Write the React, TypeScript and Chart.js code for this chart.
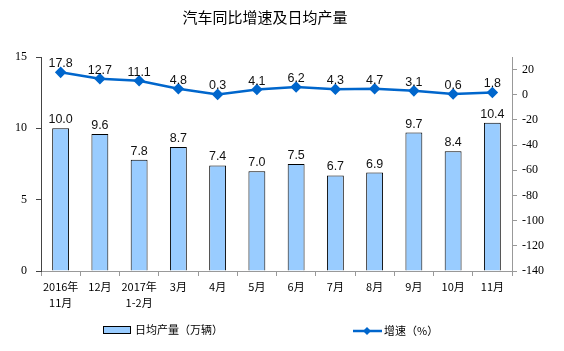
import React, { useEffect, useRef } from "react";
import { Chart, registerables } from "chart.js";

Chart.register(...registerables);

const categories: (string | string[])[] = [
  ["2016年", "11月"], "12月", ["2017年", "1-2月"], "3月", "4月", "5月",
  "6月", "7月", "8月", "9月", "10月", "11月",
];
const dailyOutput = [10.0, 9.6, 7.8, 8.7, 7.4, 7.0, 7.5, 6.7, 6.9, 9.7, 8.4, 10.4];
const growthRate = [17.8, 12.7, 11.1, 4.8, 0.3, 4.1, 6.2, 4.3, 4.7, 3.1, 0.6, 1.8];
const titleText = "汽车同比增速及日均产量";
const barLegend = "日均产量（万辆）";
const lineLegend = "增速（%）";

const BAR_FILL = "#99CCFF";
const LINE_COLOR = "#0066CC";
const CJK = '"Noto Sans CJK SC", "Noto Sans", sans-serif';
const SERIF = '"Liberation Serif", serif';

export default function App() {
  const ref = useRef<HTMLCanvasElement>(null);
  useEffect(() => {
    if (!ref.current) return;
    const extras = {
      id: "extras",
      afterDatasetsDraw(chart: any) {
        const ctx = chart.ctx;
        ctx.save();
        ctx.fillStyle = "#111";
        ctx.font = '12.5px "Liberation Sans", Arial, sans-serif';
        ctx.textAlign = "center";
        ctx.textBaseline = "alphabetic";
        chart.data.datasets.forEach((ds: any, di: number) => {
          const meta = chart.getDatasetMeta(di);
          meta.data.forEach((el: any, i: number) => {
            const v = ds.data[i];
            const txt = v.toFixed(1);
            ctx.fillText(txt, el.x, el.y - 5);
          });
        });
        ctx.restore();
      },
      afterDraw(chart: any) {
        const ctx = chart.ctx;
        ctx.save();
        // right axis labels, left-aligned
        const s = chart.scales.y1;
        ctx.fillStyle = "#000";
        ctx.font = `12px ${SERIF}`;
        ctx.textAlign = "left";
        ctx.textBaseline = "middle";
        s.ticks.forEach((t: any) => {
          ctx.fillText(String(t.value), s.left + 10, s.getPixelForValue(t.value));
        });
        // title
        ctx.font = `15px ${CJK}`;
        ctx.textAlign = "center";
        ctx.fillText(titleText, 265, 17);
        // legend: bar
        ctx.font = `11px ${CJK}`;
        ctx.textAlign = "left";
        ctx.fillStyle = BAR_FILL;
        ctx.fillRect(103.5, 326.5, 27, 7);
        ctx.strokeStyle = "#000";
        ctx.lineWidth = 1;
        ctx.strokeRect(103.5, 326.5, 27, 7);
        ctx.fillStyle = "#000";
        ctx.fillText(barLegend, 135, 330);
        // legend: line
        ctx.strokeStyle = LINE_COLOR;
        ctx.lineWidth = 2.5;
        ctx.beginPath();
        ctx.moveTo(353, 331);
        ctx.lineTo(382, 331);
        ctx.stroke();
        ctx.fillStyle = LINE_COLOR;
        ctx.beginPath();
        ctx.moveTo(367, 327);
        ctx.lineTo(371, 331);
        ctx.lineTo(367, 335);
        ctx.lineTo(363, 331);
        ctx.closePath();
        ctx.fill();
        ctx.fillStyle = "#000";
        ctx.fillText(lineLegend, 384, 331);
        ctx.restore();
      },
    };
    const chart = new Chart(ref.current, {
      type: "bar",
      data: {
        labels: categories,
        datasets: [
          {
            type: "line",
            label: lineLegend,
            data: growthRate,
            yAxisID: "y1",
            borderColor: LINE_COLOR,
            backgroundColor: LINE_COLOR,
            borderWidth: 2.5,
            pointStyle: "rectRot",
            pointRadius: 4,
            pointBackgroundColor: LINE_COLOR,
            pointBorderColor: LINE_COLOR,
            tension: 0,
            order: 0,
          } as any,
          {
            type: "bar",
            label: barLegend,
            data: dailyOutput,
            yAxisID: "y",
            backgroundColor: BAR_FILL,
            borderColor: "#000",
            borderWidth: 1,
            categoryPercentage: 1,
            barPercentage: 0.43,
            order: 1,
          },
        ],
      },
      options: {
        responsive: false,
        animation: false,
        layout: { padding: { top: 57, left: 0, right: 0, bottom: 0 } },
        plugins: { legend: { display: false }, title: { display: false }, tooltip: { enabled: false } },
        scales: {
          x: {
            offset: true,
            grid: { offset: true, drawOnChartArea: false, tickLength: 5, color: "#999" },
            border: { color: "#999" },
            ticks: { font: { family: CJK, size: 11, lineHeight: 1.45 }, color: "#000", padding: 3, maxRotation: 0, autoSkip: false },
            afterFit: (s: any) => { s.width = s.width; s.height = 80; },
          },
          y: {
            position: "left",
            min: 0,
            max: 15,
            ticks: { stepSize: 5, font: { family: SERIF, size: 12 }, color: "#000", padding: 9 },
            grid: { drawOnChartArea: false, tickLength: 5, color: "#444" },
            border: { color: "#444" },
            afterFit: (s: any) => { s.width = 41; },
          },
          y1: {
            position: "right",
            min: -140,
            max: 30,
            ticks: {
              stepSize: 20,
              includeBounds: false,
              font: { family: SERIF, size: 12 },
              color: "rgba(0,0,0,0)",
              padding: 5,
            },
            grid: { drawOnChartArea: false, tickLength: 5, color: "#999" },
            border: { color: "#999" },
            afterFit: (s: any) => { s.width = 52; },
          },
        },
      },
      plugins: [extras],
    });
    return () => chart.destroy();
  }, []);
  return (
    <div style={{ position: "fixed", left: 0, top: 0, width: 564, height: 351, background: "#fff" }}>
      <canvas ref={ref} width={564} height={351} />
    </div>
  );
}
